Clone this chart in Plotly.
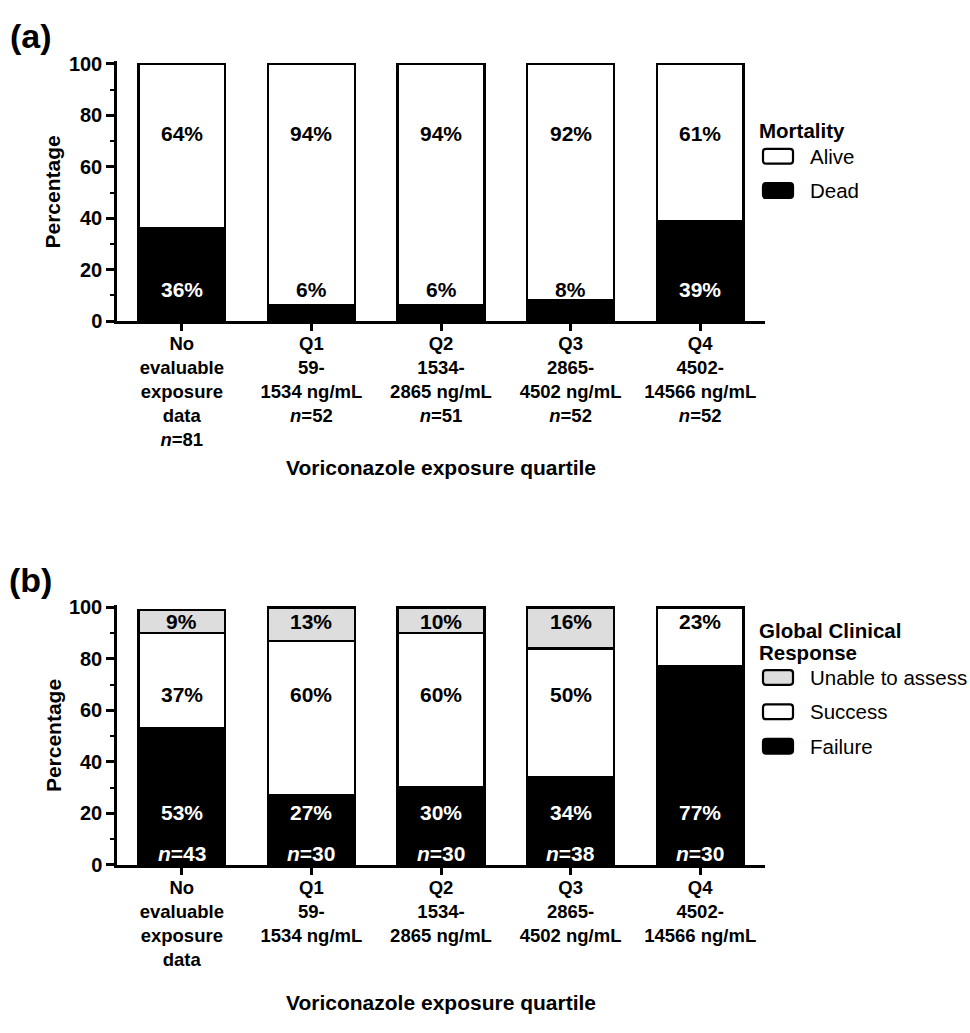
import plotly.graph_objects as go

# ---- data ----
categories = ["None", "Q1", "Q2", "Q3", "Q4"]
quartile_bounds = [59, 1534, 2865, 4502, 14566]

mortality_dead = [36, 6, 6, 8, 39]
mortality_alive = [64, 94, 94, 92, 61]
mortality_n = [81, 52, 51, 52, 52]

response_failure = [53, 27, 30, 34, 77]
response_success = [37, 60, 60, 50, 23]
response_unable = [9, 13, 10, 16, 0]
response_n = [43, 30, 30, 38, 30]

# ---- styling ----
W, H = 970, 1033
FONT = "Liberation Sans, Arial, sans-serif"
LINE_W = 2.5
BAR_W = 0.67
GRAY = "#dcdddc"


def px(x):
    return x / W


def py(y):
    return 1 - y / H


def category_labels(with_n):
    labels = []
    first = "No<br>evaluable<br>exposure<br>data"
    if with_n:
        first += f"<br><i>n</i>={mortality_n[0]}"
    labels.append(first)
    for i in range(4):
        lo, hi = quartile_bounds[i], quartile_bounds[i + 1]
        s = f"Q{i + 1}<br>{lo}-<br>{hi} ng/mL"
        if with_n:
            s += f"<br><i>n</i>={mortality_n[i + 1]}"
        labels.append(s)
    return labels


fig = go.Figure()


def add_bar(values, color, xa, ya):
    fig.add_trace(go.Bar(
        x=categories, y=values, width=BAR_W,
        marker=dict(color=color, line=dict(color="black", width=LINE_W)),
        xaxis=xa, yaxis=ya, showlegend=False, hoverinfo="skip",
    ))


# panel (a): mortality
add_bar(mortality_dead, "black", "x", "y")
add_bar(mortality_alive, "white", "x", "y")
# panel (b): global clinical response
add_bar(response_failure, "black", "x2", "y2")
add_bar(response_success, "white", "x2", "y2")
add_bar(response_unable, GRAY, "x2", "y2")

# plot-area pixel geometry
X0, X1 = 117, 765
A_BOT, A_PPU = 319, 2.62
B_BOT, B_PPU = 873, 2.625
YMAX = 101

xaxis_common = dict(
    range=[-0.5, 4.5], showline=True, linewidth=LINE_W, linecolor="black",
    ticks="outside", ticklen=7, tickwidth=LINE_W, tickcolor="black",
    showgrid=False, zeroline=False, tickvals=categories,
    ticklabelstandoff=-3,
    tickfont=dict(family=FONT, size=18.5, color="black", weight="bold"),
    domain=[px(X0), px(X1)], fixedrange=True,
)
yaxis_common = dict(
    range=[0, YMAX], showline=True, linewidth=LINE_W, linecolor="black",
    ticks="outside", ticklen=8, tickwidth=LINE_W, tickcolor="black",
    tickvals=[0, 20, 40, 60, 80, 100], showgrid=False, zeroline=False,
    minor=dict(tickvals=[10, 30, 50, 70, 90], ticks="outside", ticklen=4,
               tickwidth=2, tickcolor="black", showgrid=False),
    tickfont=dict(family=FONT, size=20, color="black", weight="bold"),
    fixedrange=True,
)

fig.update_layout(
    width=W, height=H, margin=dict(l=0, r=0, t=0, b=0),
    paper_bgcolor="white", plot_bgcolor="white", barmode="stack",
    font=dict(family=FONT, color="black"),
    xaxis=dict(xaxis_common, anchor="y", ticktext=category_labels(True)),
    yaxis=dict(yaxis_common, anchor="x",
               domain=[py(A_BOT), py(A_BOT - YMAX * A_PPU)]),
    xaxis2=dict(xaxis_common, anchor="y2", ticktext=category_labels(False)),
    yaxis2=dict(yaxis_common, anchor="x2",
                domain=[py(B_BOT), py(B_BOT - YMAX * B_PPU)]),
)

annotations = []


def label(xa, ya, x, y, text, color, size=21):
    annotations.append(dict(
        xref=xa, yref=ya, x=x, y=y, text=text, showarrow=False,
        font=dict(family=FONT, size=size, color=color, weight="bold"),
        xanchor="center", yanchor="middle",
    ))


# value labels, panel (a); a short black segment gets its label above it
LOW_Y, HIGH_Y = 12.2, 73
for c, dead, alive in zip(categories, mortality_dead, mortality_alive):
    label("x", "y", c, HIGH_Y, f"{alive}%", "black")
    label("x", "y", c, LOW_Y, f"{dead}%",
          "white" if dead > LOW_Y + 5 else "black")

# value labels, panel (b)
for c, fail, succ, unab, n in zip(categories, response_failure,
                                   response_success, response_unable,
                                   response_n):
    label("x2", "y2", c, 20.2, f"{fail}%", "white")
    label("x2", "y2", c, 4.3, f"<i>n</i>={n}", "white")
    if unab > 0:
        label("x2", "y2", c, 66, f"{succ}%", "black")
        label("x2", "y2", c, 94.3, f"{unab}%", "black")
    else:
        label("x2", "y2", c, 94.3, f"{succ}%", "black")


def paper_text(x, y, text, size=20.5, bold=True, xanchor="center", angle=0):
    annotations.append(dict(
        xref="paper", yref="paper", x=px(x), y=py(y), text=text,
        showarrow=False, textangle=angle,
        font=dict(family=FONT, size=size, color="black",
                  weight="bold" if bold else "normal"),
        xanchor=xanchor, yanchor="middle",
    ))


# panel letters, axis titles
paper_text(31, 29, "(a)", size=34)
paper_text(31, 583, "(b)", size=34)
paper_text(53, A_BOT - 50 * A_PPU, "Percentage", size=21, angle=-90)
paper_text(53, B_BOT - 50 * B_PPU, "Percentage", size=21, angle=-90)
paper_text((X0 + X1) / 2, 468, "Voriconazole exposure quartile", size=21)
paper_text((X0 + X1) / 2, 1013, "Voriconazole exposure quartile", size=21)

# custom legends
shapes = []


def legend_box(yc, fill):
    x0, x1 = 763, 793
    y0, y1 = yc - 7.5, yc + 7.5
    r = 3
    pts = (f"M {px(x0 + r)},{py(y0)} L {px(x1 - r)},{py(y0)} "
           f"Q {px(x1)},{py(y0)} {px(x1)},{py(y0 + r)} "
           f"L {px(x1)},{py(y1 - r)} Q {px(x1)},{py(y1)} {px(x1 - r)},{py(y1)} "
           f"L {px(x0 + r)},{py(y1)} Q {px(x0)},{py(y1)} {px(x0)},{py(y1 - r)} "
           f"L {px(x0)},{py(y0 + r)} Q {px(x0)},{py(y0)} {px(x0 + r)},{py(y0)} Z")
    shapes.append(dict(type="path", xref="paper", yref="paper", path=pts,
                       fillcolor=fill, line=dict(color="black", width=2.2)))


paper_text(757, 125, "Mortality", xanchor="left")
legend_box(151, "white")
paper_text(808, 151, "Alive", bold=False, xanchor="left")
legend_box(186, "black")
paper_text(808, 186, "Dead", bold=False, xanchor="left")

paper_text(757, 634, "Global Clinical", xanchor="left")
paper_text(757, 657, "Response", xanchor="left")
legend_box(682, GRAY)
paper_text(808, 682, "Unable to assess", bold=False, xanchor="left")
legend_box(717, "white")
paper_text(808, 717, "Success", bold=False, xanchor="left")
legend_box(752, "black")
paper_text(808, 752, "Failure", bold=False, xanchor="left")

fig.update_layout(annotations=annotations, shapes=shapes)

fig.write_html("out.html")
